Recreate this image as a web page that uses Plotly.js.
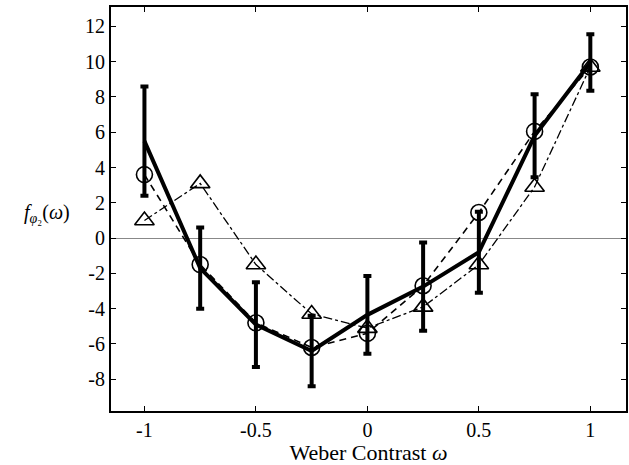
<!DOCTYPE html>
<html><head><meta charset="utf-8">
<script src="https://cdn.plot.ly/plotly-3.0.1.min.js"></script>
<style>html,body{margin:0;padding:0;background:#fff}#c{width:629px;height:465px}</style>
</head><body><div id="c"></div>
<script>
const contrast = [-1, -0.75, -0.5, -0.25, 0, 0.25, 0.5, 0.75, 1];
const meanVals = [5.5, -1.7, -4.9, -6.4, -4.35, -2.75, -0.8, 5.8, 9.95];
const meanErr  = [3.1, 2.3, 2.4, 2.0, 2.2, 2.5, 2.3, 2.35, 1.6];
const circleVals = [3.6, -1.5, -4.8, -6.2, -5.4, -2.7, 1.45, 6.05, 9.7];
const triangleVals = [1.0, 3.1, -1.5, -4.3, -5.1, -3.9, -1.5, 2.9, 9.7];
const xTickVals = [-1, -0.5, 0, 0.5, 1];
const xTickText = ["-1", "-0.5", "0", "0.5", "1"];
const yTickVals = [-8, -6, -4, -2, 0, 2, 4, 6, 8, 10, 12];
const yTickText = ["-8", "-6", "-4", "-2", "0", "2", "4", "6", "8", "10", "12"];

const font = "'Liberation Serif', 'Times New Roman', serif";
const traces = [
  {x: contrast, y: triangleVals, mode: "lines+markers", type: "scatter",
   line: {color: "#000", width: 1.3, dash: "dashdot"},
   marker: {symbol: "triangle-up-open", size: 17, color: "#000", line: {width: 1.6, color: "#000"}}},
  {x: contrast, y: circleVals, mode: "lines+markers", type: "scatter",
   line: {color: "#000", width: 1.6, dash: "7px,5px"},
   marker: {symbol: "circle-open", size: 16, color: "#000", line: {width: 1.6, color: "#000"}}},
  {x: contrast, y: meanVals, mode: "lines", type: "scatter",
   line: {color: "#000", width: 4},
   error_y: {type: "data", array: meanErr, visible: true, color: "#000", thickness: 4, width: 4}}
];
const layout = {
  width: 629, height: 465,
  margin: {l: 111, r: 3, t: 7, b: 54},
  paper_bgcolor: "#fff", plot_bgcolor: "#fff",
  showlegend: false,
  font: {family: font, size: 20, color: "#000"},
  xaxis: {range: [-1.15, 1.16], tickvals: xTickVals, ticktext: xTickText,
    ticks: "inside", ticklen: 5, tickwidth: 1, tickcolor: "#000",
    showline: true, linecolor: "#000", linewidth: 2, mirror: "ticks",
    showgrid: false, zeroline: false,
    title: {text: "Weber Contrast <i>ω</i>", font: {family: font, size: 22}, standoff: 1},
    tickfont: {family: font, size: 20}},
  yaxis: {range: [-9.8, 13.1], tickvals: yTickVals, ticktext: yTickText,
    ticks: "inside", ticklen: 5, tickwidth: 1, tickcolor: "#000",
    showline: true, linecolor: "#000", linewidth: 2, mirror: "ticks",
    showgrid: false, zeroline: true, zerolinecolor: "#888", zerolinewidth: 1,
    tickfont: {family: font, size: 20}},
  annotations: [{
    xref: "paper", yref: "paper", x: -0.125, y: (1.4 + 9.8) / 22.9,
    xanchor: "center", yanchor: "middle", showarrow: false,
    text: "<i>f</i><sub><i>φ</i>₂</sub>(<i>ω</i>)",
    font: {family: font, size: 20, color: "#000"}
  }]
};
Plotly.newPlot("c", traces, layout, {displayModeBar: false, staticPlot: true});
</script></body></html>
